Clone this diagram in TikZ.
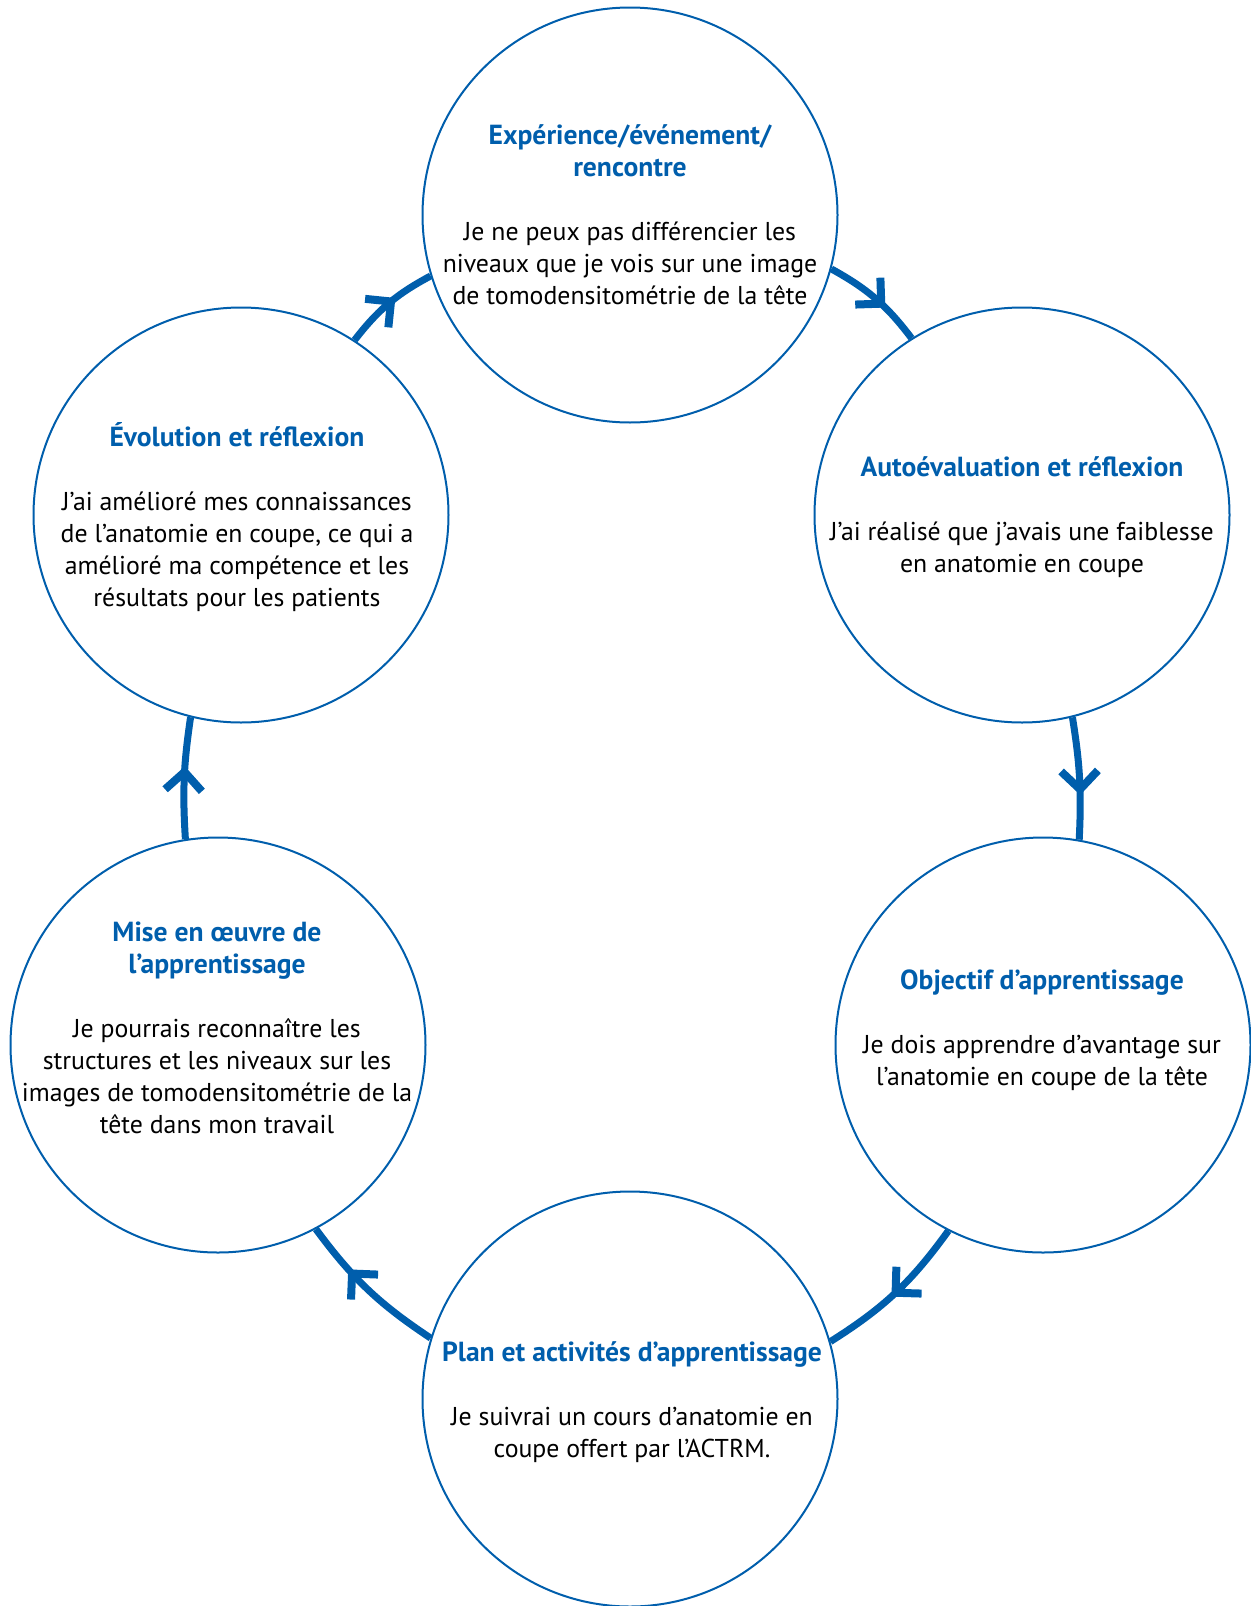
\documentclass[tikz,border=0pt]{standalone}
\usepackage{fontspec}
\setmainfont{PT Sans}
\usetikzlibrary{decorations.markings}
\definecolor{cblue}{RGB}{0,94,172}
\begin{document}
\begin{tikzpicture}[x=0.5pt,y=-0.5pt,
  stage/.style={circle,draw=cblue,line width=1pt,minimum size=207.5pt,inner sep=0pt},
  txt/.style={align=center,font=\fontsize{12.9}{16}\selectfont,text=black,inner sep=0pt},
  conn/.style={draw=cblue,line width=3.5pt,
    decoration={markings,mark=at position #1 with {\draw[cblue,line width=4pt,line join=miter,line cap=butt] (-18.4,18.4) -- (0,0) -- (-18.4,-18.4);}},
    postaction={decorate}}
]
\useasboundingbox (0,0) rectangle (1250,1606);
\newcommand{\ttl}[1]{{\fontsize{13.8}{16}\selectfont\textcolor{cblue}{\bfseries #1}}}

\node[stage] (c1) at (630,215) {};
\node[stage] (c2) at (1022,515) {};
\node[stage] (c3) at (1043,1045) {};
\node[stage] (c4) at (630,1399) {};
\node[stage] (c5) at (218,1045) {};
\node[stage] (c6) at (241,515) {};

\node[txt] (t1) at (630,215) {\ttl{Expérience/événement/}\\\ttl{rencontre}\\[16pt]Je ne peux pas différencier les\\niveaux que je vois sur une image\\de tomodensitométrie de la tête};
\node[txt] (t2) at (1022,517) {\ttl{Autoévaluation et réflexion}\\[16pt]J’ai réalisé que j’avais une faiblesse\\en anatomie en coupe};
\node[txt] (t3) at (1042,1030) {\ttl{Objectif d’apprentissage}\\[16pt]Je dois apprendre d’avantage sur\\l’anatomie en coupe de la tête};
\node[txt] (t4) at (632,1402) {\ttl{Plan et activités d’apprentissage}\\[16pt]Je suivrai un cours d’anatomie en\\coupe offert par l’ACTRM.};
\node[txt] (t5) at (217,1028) {\ttl{Mise en œuvre de}\\\ttl{l’apprentissage}\\[16pt]Je pourrais reconnaître les\\structures et les niveaux sur les\\images de tomodensitométrie de la\\tête dans mon travail};
\node[txt] (t6) at (237,517) {\ttl{Évolution et réflexion}\\[16pt]J’ai amélioré mes connaissances\\de l’anatomie en coupe, ce qui a\\amélioré ma compétence et les\\résultats pour les patients};

\draw[conn=0.57] (c1.-15.9) to[bend left=12] (c2.122.6);
\draw[conn=0.59] (c2.-76.2) to[bend left=6] (c3.80.9);
\draw[conn=0.5] (c3.-117.7) to[bend left=11] (c4.16.6);
\draw[conn=0.64] (c4.163.6) to[bend left=10] (c5.-62.6);
\draw[conn=0.55] (c5.99.1) to[bend left=6] (c6.-104.7);
\draw[conn=0.53] (c6.57.6) to[bend left=12] (c1.-163.3);
\end{tikzpicture}
\end{document}
